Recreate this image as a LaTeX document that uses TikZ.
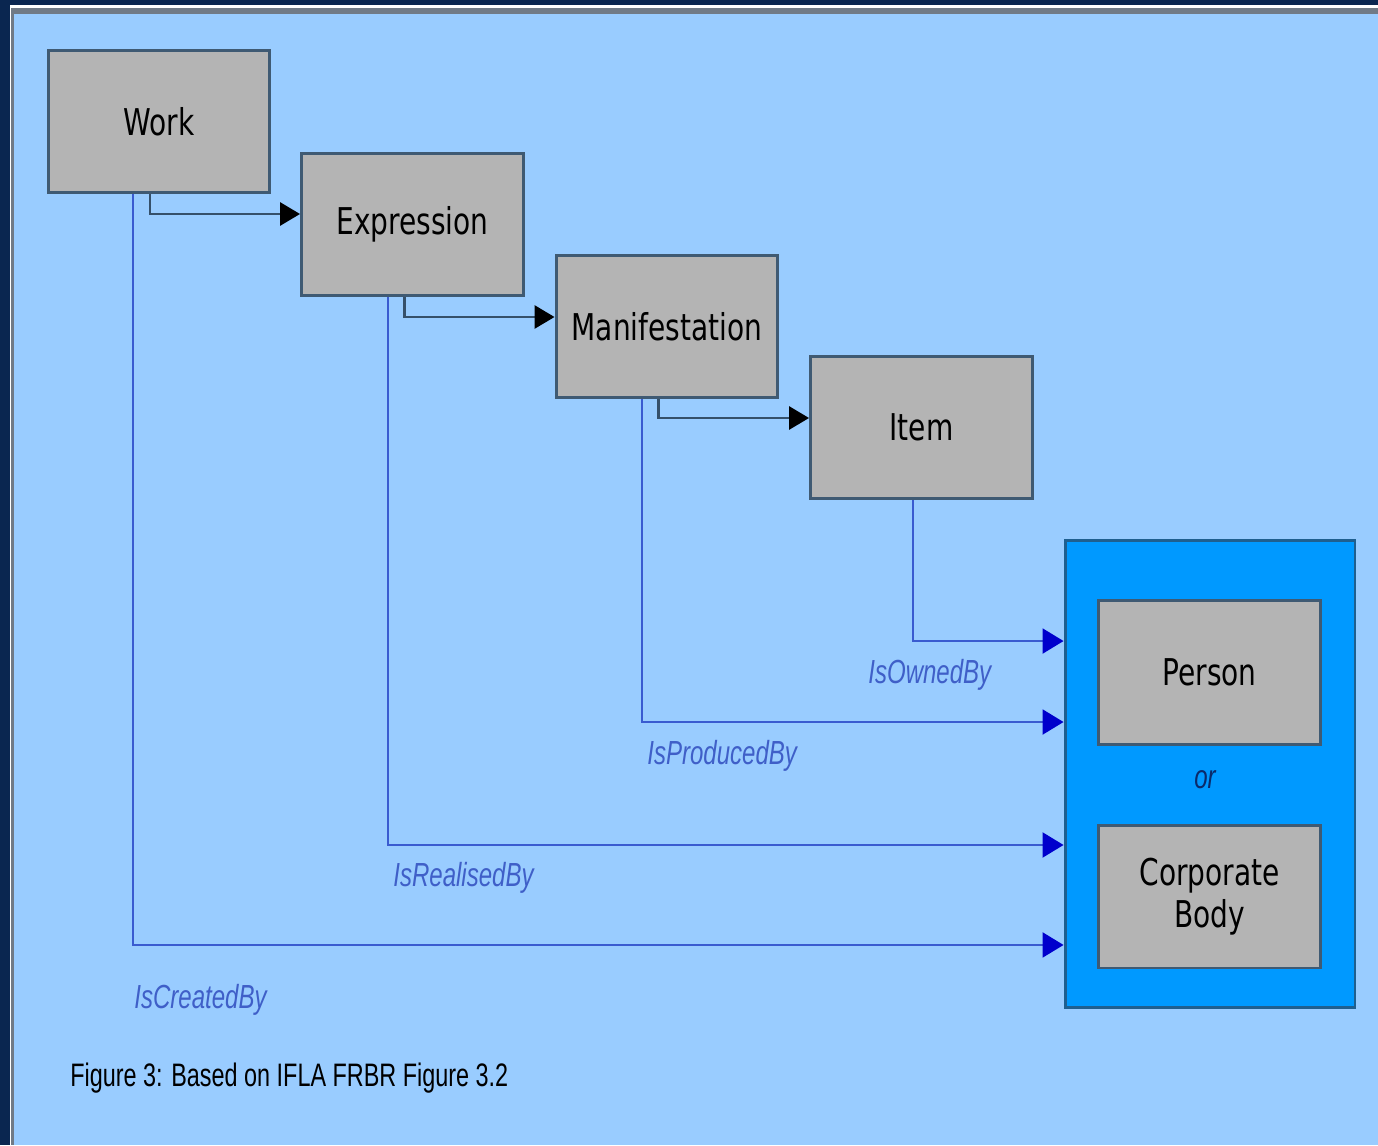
\documentclass[tikz,border=0pt]{standalone}
\usepackage{fontspec}
\usetikzlibrary{arrows.meta}
\newfontfamily\boxfont{DejaVu Sans}[FakeStretch=0.76]
\newfontfamily\labelfont{Liberation Sans}[FakeStretch=0.72]
\definecolor{navyframe}{HTML}{0A2650}
\definecolor{framegray}{HTML}{707A86}
\definecolor{paleblue}{HTML}{99CCFF}
\definecolor{boxgray}{HTML}{B4B4B4}
\definecolor{boxedge}{HTML}{3F5A73}
\definecolor{agentblue}{HTML}{0099FF}
\definecolor{agentedge}{HTML}{1F5F8F}
\definecolor{seqgray}{HTML}{35506A}
\definecolor{linkblue}{HTML}{3A5BD0}
\definecolor{tipblue}{HTML}{0000CC}
\definecolor{labelblue}{HTML}{3F5FC8}
\definecolor{ornavy}{HTML}{0A2A6A}
\tikzstyle{entity} = [draw=boxedge, fill=boxgray, line width=1.7pt,
    rectangle, minimum width=4.44cm, minimum height=2.86cm, inner sep=0pt,
    align=center, text=black, font=\boxfont\fontsize{21}{24}\selectfont]
\tikzstyle{agentbox} = [draw=agentedge, fill=agentblue, line width=1.7pt,
    rectangle, minimum width=5.8cm, minimum height=9.36cm]
\tikzstyle{seqline} = [draw=seqgray, line width=1.7pt,
    -{Triangle[length=0.4cm, width=0.46cm, color=black]}]
\tikzstyle{rolelink} = [draw=linkblue, line width=1.2pt,
    -{Triangle[length=0.42cm, width=0.5cm, color=tipblue]}]
\tikzstyle{rolelabel} = [anchor=west, inner sep=0pt, text=labelblue,
    font=\labelfont\itshape\fontsize{19}{22}\selectfont]

\begin{document}
\begin{tikzpicture}[x=0.02cm, y=-0.02cm]
    \useasboundingbox (0,0) rectangle (1378,1145);
    \fill[navyframe] (0,0) rectangle (1378,1145);
    \fill[white] (10,5) rectangle (1378,1145);
    \fill[framegray] (11,8) rectangle (1378,1145);
    \fill[paleblue] (14,14) rectangle (1378,1145);

    \node[agentbox] (agent) at (1210,774) {};
    \node[entity] (work) at (159,121.5) {Work};
    \node[entity] (expression) at (412.5,224.5) {Expression};
    \node[entity] (manifestation) at (667,326.5) {Manifestation};
    \node[entity] (item) at (921.5,427.5) {Item};
    \node[entity, minimum height=2.9cm] (person) at (1209.5,672.5) {Person};
    \node[text=ornavy, inner sep=0pt, font=\labelfont\itshape\fontsize{19}{22}\selectfont] (or) at (1205,780) {or};
    \node[entity] (corporate) at (1209.5,896.5) {Corporate\\Body};

    \draw[seqline] ([xshift=-0.18cm]work.south) |- ([yshift=0.21cm]expression.west);
    \draw[seqline] ([xshift=-0.17cm]expression.south) |- ([yshift=0.19cm]manifestation.west);
    \draw[seqline] ([xshift=-0.18cm]manifestation.south) |- ([yshift=0.19cm]item.west);

    \draw[rolelink] ([xshift=-0.17cm]item.south) |- ([yshift=2.66cm]agent.west);
    \draw[rolelink] ([xshift=-0.5cm]manifestation.south) |- ([yshift=1.04cm]agent.west);
    \draw[rolelink] ([xshift=-0.49cm]expression.south) |- ([yshift=-1.42cm]agent.west);
    \draw[rolelink] ([xshift=-0.52cm]work.south) |- ([yshift=-3.42cm]agent.west);

    \node[rolelabel] (owned) at (868,675) {IsOwnedBy};
    \node[rolelabel] (produced) at (647,756) {IsProducedBy};
    \node[rolelabel] (realised) at (393,878) {IsRealisedBy};
    \node[rolelabel] (created) at (134,1000) {IsCreatedBy};
    \node[anchor=west, inner sep=0pt, text=black,
        font=\labelfont\fontsize{18.5}{22}\selectfont] (caption) at (70,1078)
        {Figure 3: Based on IFLA FRBR Figure 3.2};
\end{tikzpicture}
\end{document}
